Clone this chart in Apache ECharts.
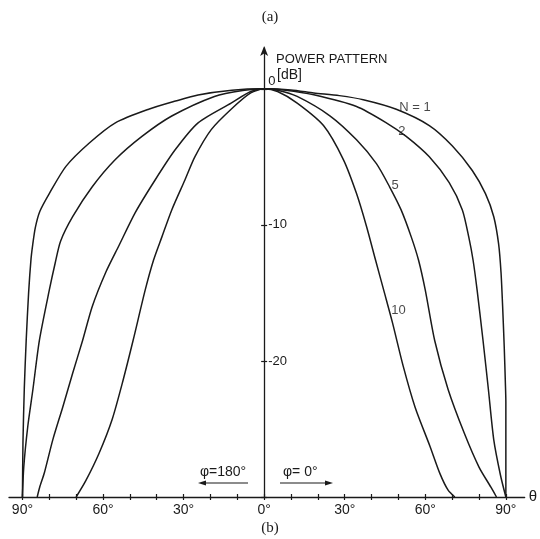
<!DOCTYPE html>
<html>
<head>
<meta charset="utf-8">
<script src="https://cdn.jsdelivr.net/npm/echarts@6/dist/echarts.min.js"></script>
<style>
  html, body { margin: 0; padding: 0; background: #fff; }
  #chart { width: 540px; height: 539px; }
</style>
</head>
<body>
<div id="chart"></div>
<script>
// theta in degrees: negative = phi=180° side (left), positive = phi=0° side (right)
const angleTicks = [-90, -80, -70, -60, -50, -40, -30, -20, -10, 0, 10, 20, 30, 40, 50, 60, 70, 80, 90];
const angleLabels = [-90, -60, -30, 0, 30, 60, 90];
const dbTicks = [-30, -20, -10, 0];
const dbLabels = [-20, -10, 0];

const n1 = [[-90,-30],[-89.8,-26],[-89.3,-22],[-88.6,-18.5],[-87.7,-15],[-86.8,-12.5],[-86.2,-11.5],[-85.2,-10.2],[-83.5,-9.0],[-80,-7.7],[-73.8,-5.7],[-65.2,-4.0],[-55.4,-2.5],[-43,-1.5],[-33,-0.9],[-24.6,-0.45],[-12,-0.1],[0,0],[10,-0.08],[18.5,-0.3],[28,-0.5],[36.9,-0.8],[49.2,-1.5],[61.5,-2.7],[70.1,-4.2],[77.5,-6.0],[82.4,-7.7],[85.5,-9.4],[87.3,-11.4],[88.2,-13.5],[88.8,-16],[89.4,-19],[89.8,-21.5],[90,-23],[90,-30]];
const n2 = [[-90,-30],[-89.5,-27.8],[-88,-24.8],[-86.1,-22.1],[-83.7,-18.5],[-80,-14.8],[-77.8,-12.8],[-75.8,-11.2],[-71.3,-9.4],[-64,-7.2],[-55.4,-5.2],[-45.5,-3.5],[-34.4,-2.0],[-18.5,-0.56],[-8,-0.12],[0,0],[8,-0.1],[18.5,-0.44],[34.4,-1.3],[45.5,-2.5],[52.9,-3.5],[61.5,-5.0],[68.9,-6.9],[73.8,-8.9],[76.2,-10.9],[77.8,-12.6],[79.3,-14.8],[81.5,-18.5],[83.5,-22.1],[85.5,-25.8],[88,-28.4],[90,-30]];
const n5 = [[-84.5,-30],[-83.6,-29.3],[-81.8,-28.2],[-78.7,-25.8],[-75,-23.4],[-71.3,-20.9],[-67.6,-18.5],[-64,-16.0],[-59,-13.5],[-54,-11.5],[-48,-9.1],[-40.6,-6.7],[-33.2,-4.5],[-24.6,-2.5],[-12.3,-1.05],[-5,-0.2],[0,0],[5,-0.1],[12.3,-0.56],[24.6,-2.0],[34.4,-3.75],[41.8,-5.5],[46.7,-7.2],[51.0,-8.9],[54.8,-10.9],[57.5,-12.6],[60,-14.8],[63.5,-18.5],[68.5,-22.1],[74.5,-25.3],[80,-27.8],[84.5,-29.3],[86.5,-30]];
const n10 = [[-70,-30],[-66.4,-28.8],[-61.5,-26.8],[-56.6,-24.3],[-52.5,-21.4],[-48.8,-18.5],[-44.3,-14.8],[-41.2,-12.6],[-38.1,-10.9],[-34.4,-8.9],[-29.5,-6.7],[-25.8,-5.0],[-19.7,-3.0],[-12.3,-1.5],[-5,-0.3],[0,0],[5,-0.2],[12.3,-1.05],[22.1,-2.7],[29.5,-5.2],[34.4,-7.7],[38.1,-10.1],[41.5,-12.6],[44.8,-15],[47.8,-17.2],[51.8,-20.4],[56.2,-23.4],[61.8,-26.3],[65.5,-28.3],[68.5,-29.5],[71,-30]];

const curveLabels = [[56.2, -1.4, 'N = 1'], [51.3, -3.1, '2'], [48.8, -7.1, '5'], [50, -16.3, '10']];

const INK = '#1a1a1a';
const sans = 'Liberation Sans, Arial, sans-serif';
const serif = 'Liberation Serif, Times New Roman, serif';
const GRID_LEFT = 9;

function curve(name, data) {
  return {
    name, type: 'line', data, smooth: 0.25, symbol: 'none',
    xAxisIndex: 0, yAxisIndex: 0,
    lineStyle: { color: INK, width: 1.5 }, z: 3
  };
}

const chart = echarts.init(document.getElementById('chart'), null, { renderer: 'canvas' });
chart.setOption({
  animation: false,
  backgroundColor: '#fff',
  grid: { left: GRID_LEFT, right: 10, top: 48, bottom: 42, containLabel: false },
  xAxis: [
    {
      type: 'value', min: -95, max: 97,
      name: 'θ', nameLocation: 'end', nameGap: 4,
      nameTextStyle: { color: INK, fontSize: 15, fontFamily: sans, padding: [0, 0, 12, 0] },
      axisLine: { onZero: false, lineStyle: { color: INK, width: 1.3 } },
      axisTick: { show: true, customValues: angleTicks, length: 3, lineStyle: { color: INK, width: 1.2 } },
      axisLabel: {
        customValues: angleLabels, color: INK, fontSize: 14, fontFamily: sans, margin: 6,
        formatter: v => Math.abs(v) + '°'
      },
      splitLine: { show: false }
    },
    {
      type: 'value', min: -95, max: 97, position: 'bottom',
      axisLine: { show: false, onZero: false },
      axisTick: { show: true, inside: true, customValues: angleTicks, length: 3, lineStyle: { color: INK, width: 1.2 } },
      axisLabel: { show: false },
      splitLine: { show: false }
    }
  ],
  yAxis: [
    {
      type: 'value', min: -30, max: 3, position: 'left', offset: 0,
      axisLine: { onZero: false, symbol: ['none', 'arrow'], symbolSize: [6, 10], symbolOffset: [0, 2], lineStyle: { color: INK, width: 1.3 } },
      axisTick: { show: true, customValues: dbTicks, length: 3, lineStyle: { color: INK, width: 1.2 } },
      axisLabel: {
        inside: true, customValues: dbLabels, color: INK, fontSize: 13, fontFamily: sans, margin: 4,
        formatter: v => (v === 0 ? '{z|0}' : String(v)),
        rich: { z: { fontSize: 13, fontFamily: sans, color: INK, padding: [0, 0, 14, 0] } }
      },
      splitLine: { show: false }
    },
    {
      type: 'value', min: -30, max: 3, position: 'left', offset: 0,
      axisLine: { show: false, onZero: false },
      axisTick: { show: true, inside: true, customValues: dbTicks, length: 3, lineStyle: { color: INK, width: 1.2 } },
      axisLabel: { show: false },
      splitLine: { show: false }
    }
  ],
  series: [
    curve('N=1', n1),
    curve('N=2', n2),
    curve('N=5', n5),
    curve('N=10', n10),
    {
      type: 'scatter', xAxisIndex: 0, yAxisIndex: 0, symbolSize: 0,
      data: curveLabels.map(d => ({ value: [d[0], d[1]], name: d[2] })),
      label: { show: true, position: 'inside', formatter: p => p.name, color: INK, fontSize: 13, fontFamily: sans },
      z: 4
    }
  ],
  graphic: [
    { type: 'text', left: 'center', top: 10, style: { text: '(a)', font: '15px ' + serif, fill: INK } },
    { type: 'text', left: 'center', top: 521, style: { text: '(b)', font: '15px ' + serif, fill: INK } },
    { type: 'text', x: 276, y: 53, style: { text: 'POWER PATTERN', font: '13px ' + sans, fill: INK } },
    { type: 'text', x: 277, y: 68, style: { text: '[dB]', font: '14px ' + sans, fill: INK } },
    { type: 'text', x: 200, y: 465, style: { text: 'φ=180°', font: '14px ' + sans, fill: INK } },
    { type: 'line', shape: { x1: 202, y1: 483, x2: 248, y2: 483 }, style: { stroke: INK, lineWidth: 1.2 } },
    { type: 'polygon', shape: { points: [[198, 483], [206, 480.5], [206, 485.5]] }, style: { fill: INK } },
    { type: 'text', x: 283, y: 465, style: { text: 'φ= 0°', font: '14px ' + sans, fill: INK } },
    { type: 'line', shape: { x1: 280, y1: 483, x2: 328, y2: 483 }, style: { stroke: INK, lineWidth: 1.2 } },
    { type: 'polygon', shape: { points: [[333, 483], [325, 480.5], [325, 485.5]] }, style: { fill: INK } }
  ]
});

// place the dB axis on theta = 0 (pixel position taken from the x scale)
const x0 = chart.convertToPixel({ xAxisIndex: 0 }, 0);
const off = -(x0 - GRID_LEFT);
chart.setOption({ yAxis: [{ offset: off }, { offset: off }] });
</script>
</body>
</html>
